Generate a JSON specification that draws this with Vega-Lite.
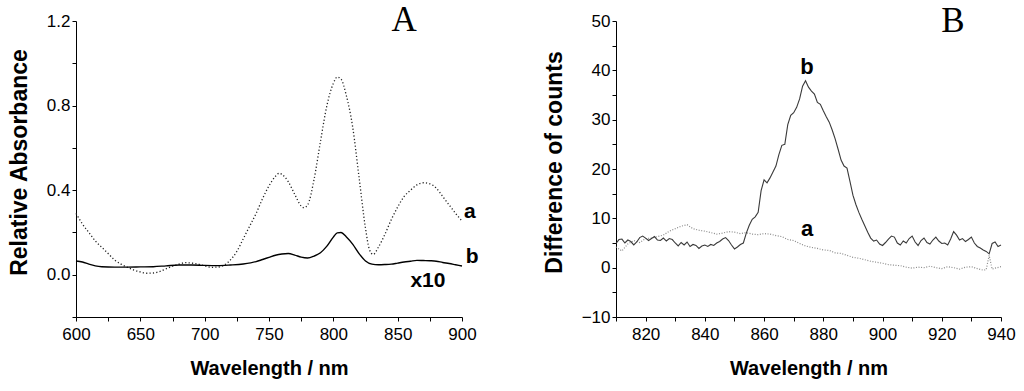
{
  "$schema": "https://vega.github.io/schema/vega-lite/v6.json",
  "background": "white",
  "padding": {"left": 8, "top": 2, "right": 5, "bottom": 2},
  "spacing": 64,
  "config": {
    "view": {"stroke": null},
    "font": "Liberation Sans",
    "axis": {
      "grid": false,
      "domainColor": "#000",
      "domainWidth": 1,
      "tickColor": "#000",
      "tickSize": 4,
      "tickCount": 100,
      "labelColor": "#000",
      "labelFont": "Liberation Sans",
      "labelFontSize": 17,
      "labelPadding": 2,
      "labelOverlap": false,
      "titleFont": "Liberation Sans",
      "titleFontWeight": "bold",
      "titleColor": "#000"
    },
    "axisX": {"labelPadding": 5, "titleFontSize": 20, "titlePadding": 16, "labelFlush": false},
    "axisY": {"titleFontSize": 23, "titlePadding": 15, "titleY": 141}
  },
  "datasets": {
    "absA": [
      {"wl": 600, "v": 0.29, "s": "a"}, {"wl": 605, "v": 0.24, "s": "a"}, {"wl": 610, "v": 0.2, "s": "a"}, {"wl": 615, "v": 0.16, "s": "a"}, {"wl": 620, "v": 0.13, "s": "a"}, {"wl": 625, "v": 0.1, "s": "a"}, {"wl": 630, "v": 0.07, "s": "a"}, {"wl": 635, "v": 0.05, "s": "a"}, {"wl": 640, "v": 0.035, "s": "a"}, {"wl": 645, "v": 0.022, "s": "a"}, {"wl": 650, "v": 0.013, "s": "a"}, {"wl": 655, "v": 0.007, "s": "a"}, {"wl": 660, "v": 0.008, "s": "a"}, {"wl": 665, "v": 0.015, "s": "a"}, {"wl": 670, "v": 0.028, "s": "a"}, {"wl": 675, "v": 0.04, "s": "a"}, {"wl": 680, "v": 0.05, "s": "a"}, {"wl": 685, "v": 0.057, "s": "a"}, {"wl": 690, "v": 0.055, "s": "a"}, {"wl": 695, "v": 0.05, "s": "a"}, {"wl": 700, "v": 0.042, "s": "a"}, {"wl": 705, "v": 0.035, "s": "a"}, {"wl": 710, "v": 0.036, "s": "a"}, {"wl": 715, "v": 0.045, "s": "a"}, {"wl": 720, "v": 0.07, "s": "a"}, {"wl": 725, "v": 0.11, "s": "a"}, {"wl": 730, "v": 0.17, "s": "a"}, {"wl": 735, "v": 0.23, "s": "a"}, {"wl": 740, "v": 0.29, "s": "a"}, {"wl": 745, "v": 0.36, "s": "a"}, {"wl": 750, "v": 0.42, "s": "a"}, {"wl": 755, "v": 0.465, "s": "a"}, {"wl": 758, "v": 0.48, "s": "a"}, {"wl": 760, "v": 0.475, "s": "a"}, {"wl": 765, "v": 0.44, "s": "a"}, {"wl": 770, "v": 0.38, "s": "a"}, {"wl": 775, "v": 0.325, "s": "a"}, {"wl": 777, "v": 0.317, "s": "a"}, {"wl": 780, "v": 0.33, "s": "a"}, {"wl": 785, "v": 0.45, "s": "a"}, {"wl": 790, "v": 0.63, "s": "a"}, {"wl": 795, "v": 0.8, "s": "a"}, {"wl": 800, "v": 0.905, "s": "a"}, {"wl": 803, "v": 0.935, "s": "a"}, {"wl": 806, "v": 0.925, "s": "a"}, {"wl": 810, "v": 0.85, "s": "a"}, {"wl": 815, "v": 0.7, "s": "a"}, {"wl": 820, "v": 0.46, "s": "a"}, {"wl": 825, "v": 0.22, "s": "a"}, {"wl": 828, "v": 0.12, "s": "a"}, {"wl": 831, "v": 0.096, "s": "a"}, {"wl": 835, "v": 0.13, "s": "a"}, {"wl": 840, "v": 0.19, "s": "a"}, {"wl": 845, "v": 0.26, "s": "a"}, {"wl": 850, "v": 0.32, "s": "a"}, {"wl": 855, "v": 0.37, "s": "a"}, {"wl": 860, "v": 0.4, "s": "a"}, {"wl": 865, "v": 0.425, "s": "a"}, {"wl": 870, "v": 0.435, "s": "a"}, {"wl": 875, "v": 0.43, "s": "a"}, {"wl": 880, "v": 0.41, "s": "a"}, {"wl": 885, "v": 0.37, "s": "a"}, {"wl": 890, "v": 0.33, "s": "a"}, {"wl": 895, "v": 0.29, "s": "a"}, {"wl": 900, "v": 0.254, "s": "a"},
      {"wl": 600, "v": 0.065, "s": "b"}, {"wl": 605, "v": 0.06, "s": "b"}, {"wl": 610, "v": 0.05, "s": "b"}, {"wl": 615, "v": 0.042, "s": "b"}, {"wl": 620, "v": 0.038, "s": "b"}, {"wl": 630, "v": 0.036, "s": "b"}, {"wl": 640, "v": 0.036, "s": "b"}, {"wl": 650, "v": 0.037, "s": "b"}, {"wl": 660, "v": 0.038, "s": "b"}, {"wl": 670, "v": 0.042, "s": "b"}, {"wl": 680, "v": 0.046, "s": "b"}, {"wl": 690, "v": 0.046, "s": "b"}, {"wl": 700, "v": 0.044, "s": "b"}, {"wl": 710, "v": 0.043, "s": "b"}, {"wl": 720, "v": 0.046, "s": "b"}, {"wl": 730, "v": 0.051, "s": "b"}, {"wl": 740, "v": 0.062, "s": "b"}, {"wl": 745, "v": 0.072, "s": "b"}, {"wl": 750, "v": 0.082, "s": "b"}, {"wl": 755, "v": 0.092, "s": "b"}, {"wl": 760, "v": 0.098, "s": "b"}, {"wl": 765, "v": 0.1, "s": "b"}, {"wl": 770, "v": 0.093, "s": "b"}, {"wl": 775, "v": 0.083, "s": "b"}, {"wl": 780, "v": 0.079, "s": "b"}, {"wl": 785, "v": 0.088, "s": "b"}, {"wl": 790, "v": 0.104, "s": "b"}, {"wl": 795, "v": 0.135, "s": "b"}, {"wl": 800, "v": 0.178, "s": "b"}, {"wl": 803, "v": 0.198, "s": "b"}, {"wl": 806, "v": 0.2, "s": "b"}, {"wl": 810, "v": 0.18, "s": "b"}, {"wl": 815, "v": 0.145, "s": "b"}, {"wl": 820, "v": 0.1, "s": "b"}, {"wl": 825, "v": 0.065, "s": "b"}, {"wl": 830, "v": 0.05, "s": "b"}, {"wl": 835, "v": 0.047, "s": "b"}, {"wl": 840, "v": 0.048, "s": "b"}, {"wl": 845, "v": 0.05, "s": "b"}, {"wl": 850, "v": 0.055, "s": "b"}, {"wl": 855, "v": 0.06, "s": "b"}, {"wl": 860, "v": 0.064, "s": "b"}, {"wl": 865, "v": 0.068, "s": "b"}, {"wl": 870, "v": 0.067, "s": "b"}, {"wl": 875, "v": 0.066, "s": "b"}, {"wl": 880, "v": 0.064, "s": "b"}, {"wl": 885, "v": 0.058, "s": "b"}, {"wl": 890, "v": 0.053, "s": "b"}, {"wl": 895, "v": 0.047, "s": "b"}, {"wl": 900, "v": 0.041, "s": "b"}
    ],
    "cntB": [
      {"wl": 810, "v": 4.9, "s": "b"}, {"wl": 811, "v": 5.7, "s": "b"}, {"wl": 812, "v": 5.8, "s": "b"}, {"wl": 813, "v": 5.0, "s": "b"}, {"wl": 814, "v": 5.6, "s": "b"}, {"wl": 815, "v": 5.3, "s": "b"}, {"wl": 816, "v": 4.6, "s": "b"}, {"wl": 817, "v": 5.2, "s": "b"}, {"wl": 818, "v": 6.1, "s": "b"}, {"wl": 819, "v": 6.4, "s": "b"}, {"wl": 820, "v": 6.0, "s": "b"}, {"wl": 821, "v": 5.5, "s": "b"}, {"wl": 822, "v": 5.9, "s": "b"}, {"wl": 823, "v": 6.3, "s": "b"}, {"wl": 824, "v": 5.6, "s": "b"}, {"wl": 825, "v": 5.5, "s": "b"}, {"wl": 826, "v": 6.0, "s": "b"}, {"wl": 827, "v": 5.4, "s": "b"}, {"wl": 828, "v": 5.9, "s": "b"}, {"wl": 829, "v": 5.7, "s": "b"}, {"wl": 830, "v": 5.0, "s": "b"}, {"wl": 831, "v": 4.4, "s": "b"}, {"wl": 832, "v": 5.1, "s": "b"}, {"wl": 833, "v": 4.6, "s": "b"}, {"wl": 834, "v": 5.2, "s": "b"}, {"wl": 835, "v": 4.3, "s": "b"}, {"wl": 836, "v": 4.7, "s": "b"}, {"wl": 837, "v": 4.5, "s": "b"}, {"wl": 838, "v": 3.9, "s": "b"}, {"wl": 839, "v": 4.4, "s": "b"}, {"wl": 840, "v": 4.6, "s": "b"}, {"wl": 841, "v": 4.3, "s": "b"}, {"wl": 842, "v": 4.7, "s": "b"}, {"wl": 843, "v": 4.5, "s": "b"}, {"wl": 844, "v": 5.0, "s": "b"}, {"wl": 845, "v": 5.3, "s": "b"}, {"wl": 846, "v": 5.8, "s": "b"}, {"wl": 847, "v": 6.1, "s": "b"}, {"wl": 848, "v": 5.5, "s": "b"}, {"wl": 849, "v": 4.6, "s": "b"}, {"wl": 850, "v": 3.8, "s": "b"}, {"wl": 851, "v": 4.2, "s": "b"}, {"wl": 852, "v": 4.7, "s": "b"}, {"wl": 853, "v": 5.0, "s": "b"}, {"wl": 854, "v": 7.0, "s": "b"}, {"wl": 855, "v": 8.6, "s": "b"}, {"wl": 856, "v": 9.8, "s": "b"}, {"wl": 857, "v": 10.3, "s": "b"}, {"wl": 858, "v": 11.2, "s": "b"}, {"wl": 859, "v": 15.6, "s": "b"}, {"wl": 860, "v": 17.8, "s": "b"}, {"wl": 861, "v": 17.2, "s": "b"}, {"wl": 862, "v": 18.2, "s": "b"}, {"wl": 863, "v": 19.4, "s": "b"}, {"wl": 864, "v": 20.6, "s": "b"}, {"wl": 865, "v": 22.9, "s": "b"}, {"wl": 866, "v": 24.8, "s": "b"}, {"wl": 867, "v": 25.0, "s": "b"}, {"wl": 868, "v": 29.0, "s": "b"}, {"wl": 869, "v": 30.9, "s": "b"}, {"wl": 870, "v": 31.4, "s": "b"}, {"wl": 871, "v": 32.5, "s": "b"}, {"wl": 872, "v": 34.2, "s": "b"}, {"wl": 873, "v": 36.8, "s": "b"}, {"wl": 874, "v": 37.9, "s": "b"}, {"wl": 875, "v": 36.6, "s": "b"}, {"wl": 876, "v": 35.8, "s": "b"}, {"wl": 877, "v": 35.2, "s": "b"}, {"wl": 878, "v": 33.5, "s": "b"}, {"wl": 879, "v": 33.1, "s": "b"}, {"wl": 880, "v": 31.8, "s": "b"}, {"wl": 881, "v": 30.6, "s": "b"}, {"wl": 882, "v": 29.5, "s": "b"}, {"wl": 883, "v": 27.9, "s": "b"}, {"wl": 884, "v": 26.1, "s": "b"}, {"wl": 885, "v": 24.0, "s": "b"}, {"wl": 886, "v": 21.8, "s": "b"}, {"wl": 887, "v": 20.6, "s": "b"}, {"wl": 888, "v": 20.2, "s": "b"}, {"wl": 889, "v": 17.5, "s": "b"}, {"wl": 890, "v": 14.7, "s": "b"}, {"wl": 891, "v": 12.8, "s": "b"}, {"wl": 892, "v": 11.2, "s": "b"}, {"wl": 893, "v": 9.8, "s": "b"}, {"wl": 894, "v": 8.5, "s": "b"}, {"wl": 895, "v": 7.2, "s": "b"}, {"wl": 896, "v": 6.0, "s": "b"}, {"wl": 897, "v": 5.4, "s": "b"}, {"wl": 898, "v": 5.6, "s": "b"}, {"wl": 899, "v": 4.8, "s": "b"}, {"wl": 900, "v": 4.5, "s": "b"}, {"wl": 901, "v": 5.1, "s": "b"}, {"wl": 902, "v": 5.8, "s": "b"}, {"wl": 903, "v": 6.4, "s": "b"}, {"wl": 904, "v": 6.2, "s": "b"}, {"wl": 905, "v": 5.0, "s": "b"}, {"wl": 906, "v": 4.6, "s": "b"}, {"wl": 907, "v": 5.4, "s": "b"}, {"wl": 908, "v": 5.0, "s": "b"}, {"wl": 909, "v": 5.9, "s": "b"}, {"wl": 910, "v": 6.4, "s": "b"}, {"wl": 911, "v": 5.2, "s": "b"}, {"wl": 912, "v": 4.5, "s": "b"}, {"wl": 913, "v": 5.5, "s": "b"}, {"wl": 914, "v": 6.0, "s": "b"}, {"wl": 915, "v": 5.1, "s": "b"}, {"wl": 916, "v": 4.8, "s": "b"}, {"wl": 917, "v": 5.6, "s": "b"}, {"wl": 918, "v": 6.2, "s": "b"}, {"wl": 919, "v": 5.4, "s": "b"}, {"wl": 920, "v": 4.9, "s": "b"}, {"wl": 921, "v": 5.0, "s": "b"}, {"wl": 922, "v": 4.6, "s": "b"}, {"wl": 923, "v": 5.8, "s": "b"}, {"wl": 924, "v": 7.3, "s": "b"}, {"wl": 925, "v": 6.6, "s": "b"}, {"wl": 926, "v": 5.6, "s": "b"}, {"wl": 927, "v": 5.9, "s": "b"}, {"wl": 928, "v": 5.3, "s": "b"}, {"wl": 929, "v": 5.7, "s": "b"}, {"wl": 930, "v": 6.2, "s": "b"}, {"wl": 931, "v": 5.0, "s": "b"}, {"wl": 932, "v": 4.3, "s": "b"}, {"wl": 933, "v": 4.0, "s": "b"}, {"wl": 934, "v": 3.6, "s": "b"}, {"wl": 935, "v": 3.3, "s": "b"}, {"wl": 936, "v": 2.8, "s": "b"}, {"wl": 937, "v": 4.9, "s": "b"}, {"wl": 938, "v": 5.2, "s": "b"}, {"wl": 939, "v": 4.3, "s": "b"}, {"wl": 940, "v": 4.6, "s": "b"},
      {"wl": 810, "v": 4.2, "s": "a"}, {"wl": 812, "v": 3.4, "s": "a"}, {"wl": 814, "v": 4.8, "s": "a"}, {"wl": 816, "v": 5.5, "s": "a"}, {"wl": 818, "v": 5.1, "s": "a"}, {"wl": 820, "v": 5.9, "s": "a"}, {"wl": 822, "v": 6.0, "s": "a"}, {"wl": 824, "v": 6.3, "s": "a"}, {"wl": 826, "v": 6.6, "s": "a"}, {"wl": 828, "v": 7.4, "s": "a"}, {"wl": 830, "v": 7.9, "s": "a"}, {"wl": 832, "v": 8.4, "s": "a"}, {"wl": 834, "v": 8.7, "s": "a"}, {"wl": 836, "v": 7.9, "s": "a"}, {"wl": 838, "v": 7.6, "s": "a"}, {"wl": 840, "v": 7.4, "s": "a"}, {"wl": 842, "v": 7.1, "s": "a"}, {"wl": 844, "v": 6.8, "s": "a"}, {"wl": 846, "v": 7.0, "s": "a"}, {"wl": 848, "v": 7.3, "s": "a"}, {"wl": 850, "v": 7.2, "s": "a"}, {"wl": 852, "v": 6.9, "s": "a"}, {"wl": 854, "v": 7.1, "s": "a"}, {"wl": 856, "v": 6.8, "s": "a"}, {"wl": 858, "v": 6.7, "s": "a"}, {"wl": 860, "v": 6.9, "s": "a"}, {"wl": 862, "v": 6.8, "s": "a"}, {"wl": 864, "v": 6.5, "s": "a"}, {"wl": 866, "v": 6.3, "s": "a"}, {"wl": 868, "v": 5.7, "s": "a"}, {"wl": 870, "v": 5.5, "s": "a"}, {"wl": 872, "v": 4.9, "s": "a"}, {"wl": 874, "v": 4.4, "s": "a"}, {"wl": 876, "v": 4.1, "s": "a"}, {"wl": 878, "v": 3.9, "s": "a"}, {"wl": 880, "v": 3.6, "s": "a"}, {"wl": 882, "v": 3.5, "s": "a"}, {"wl": 884, "v": 3.0, "s": "a"}, {"wl": 886, "v": 2.9, "s": "a"}, {"wl": 888, "v": 2.5, "s": "a"}, {"wl": 890, "v": 2.1, "s": "a"}, {"wl": 892, "v": 1.9, "s": "a"}, {"wl": 894, "v": 1.6, "s": "a"}, {"wl": 896, "v": 1.3, "s": "a"}, {"wl": 898, "v": 1.1, "s": "a"}, {"wl": 900, "v": 0.9, "s": "a"}, {"wl": 902, "v": 0.6, "s": "a"}, {"wl": 904, "v": 0.5, "s": "a"}, {"wl": 906, "v": 0.4, "s": "a"}, {"wl": 908, "v": 0.1, "s": "a"}, {"wl": 910, "v": -0.1, "s": "a"}, {"wl": 912, "v": 0.1, "s": "a"}, {"wl": 914, "v": 0.0, "s": "a"}, {"wl": 916, "v": 0.3, "s": "a"}, {"wl": 918, "v": 0.0, "s": "a"}, {"wl": 920, "v": -0.2, "s": "a"}, {"wl": 922, "v": 0.2, "s": "a"}, {"wl": 924, "v": 0.0, "s": "a"}, {"wl": 926, "v": -0.3, "s": "a"}, {"wl": 928, "v": 0.1, "s": "a"}, {"wl": 930, "v": 0.2, "s": "a"}, {"wl": 932, "v": -0.2, "s": "a"}, {"wl": 934, "v": -0.5, "s": "a"}, {"wl": 935, "v": -0.4, "s": "a"}, {"wl": 936, "v": 2.5, "s": "a"}, {"wl": 937, "v": -0.3, "s": "a"}, {"wl": 938, "v": -0.1, "s": "a"}, {"wl": 940, "v": 0.2, "s": "a"}
    ]
  },
  "hconcat": [
    {
      "width": 386,
      "height": 296,
      "layer": [
        {
          "data": {"name": "absA"},
          "transform": [{"filter": "datum.s === 'a'"}],
          "mark": {"type": "line", "color": "#222", "strokeWidth": 1.3, "strokeDash": [1.2, 2.2], "interpolate": "monotone"},
          "encoding": {
            "x": {"field": "wl", "type": "quantitative", "scale": {"domain": [600, 900], "nice": false}, "title": "Wavelength / nm",
              "axis": {"values": [600, 625, 650, 675, 700, 725, 750, 775, 800, 825, 850, 875, 900], "tickCount": 100, "format": "d", "labelExpr": "datum.value % 50 === 0 ? datum.label : ''"}},
            "y": {"field": "v", "type": "quantitative", "scale": {"domain": [-0.2, 1.2], "nice": false, "zero": false}, "title": "Relative Absorbance",
              "axis": {"values": [-0.2, 0, 0.2, 0.4, 0.6, 0.8, 1.0, 1.2], "tickCount": 100, "format": ".1f", "labelExpr": "round(datum.value * 10) % 4 === 0 && datum.value >= 0 ? datum.label : ''"}}
          }
        },
        {
          "data": {"name": "absA"},
          "transform": [{"filter": "datum.s === 'b'"}],
          "mark": {"type": "line", "color": "#000", "strokeWidth": 1.4, "interpolate": "monotone"},
          "encoding": {
            "x": {"field": "wl", "type": "quantitative"},
            "y": {"field": "v", "type": "quantitative"}
          }
        },
        {
          "data": {"values": [{"wl": 901.5, "v": 0.27, "t": "a"}, {"wl": 903, "v": 0.057, "t": "b"}]},
          "mark": {"type": "text", "align": "left", "baseline": "alphabetic", "font": "Liberation Sans", "fontWeight": "bold", "fontSize": 21, "color": "#000"},
          "encoding": {"x": {"field": "wl", "type": "quantitative"}, "y": {"field": "v", "type": "quantitative"}, "text": {"field": "t"}}
        },
        {
          "data": {"values": [{"wl": 873.5, "v": -0.057, "t": "x10"}]},
          "mark": {"type": "text", "align": "center", "baseline": "alphabetic", "font": "Liberation Sans", "fontWeight": "bold", "fontSize": 21, "color": "#000"},
          "encoding": {"x": {"field": "wl", "type": "quantitative"}, "y": {"field": "v", "type": "quantitative"}, "text": {"field": "t"}}
        },
        {
          "data": {"values": [{"wl": 855, "v": 1.153, "t": "A"}]},
          "mark": {"type": "text", "align": "center", "baseline": "alphabetic", "font": "Liberation Serif", "fontSize": 35, "color": "#000"},
          "encoding": {"x": {"field": "wl", "type": "quantitative"}, "y": {"field": "v", "type": "quantitative"}, "text": {"field": "t"}}
        }
      ]
    },
    {
      "width": 385,
      "height": 296,
      "layer": [
        {
          "data": {"name": "cntB"},
          "transform": [{"filter": "datum.s === 'a'"}],
          "mark": {"type": "line", "color": "#8a8a8a", "strokeWidth": 1.2, "strokeDash": [1, 1.6]},
          "encoding": {
            "x": {"field": "wl", "type": "quantitative", "scale": {"domain": [810, 940], "nice": false, "zero": false}, "title": "Wavelength / nm",
              "axis": {"values": [810, 820, 830, 840, 850, 860, 870, 880, 890, 900, 910, 920, 930, 940], "tickCount": 100, "format": "d", "labelExpr": "datum.value % 20 === 0 ? datum.label : ''"}},
            "y": {"field": "v", "type": "quantitative", "scale": {"domain": [-10, 50], "nice": false}, "title": "Difference of counts",
              "axis": {"values": [-10, -5, 0, 5, 10, 15, 20, 25, 30, 35, 40, 45, 50], "tickCount": 100, "format": "d", "labelExpr": "datum.value % 10 === 0 ? datum.label : ''"}}
          }
        },
        {
          "data": {"name": "cntB"},
          "transform": [{"filter": "datum.s === 'b'"}],
          "mark": {"type": "line", "color": "#3a3a3a", "strokeWidth": 1.1},
          "encoding": {
            "x": {"field": "wl", "type": "quantitative"},
            "y": {"field": "v", "type": "quantitative"}
          }
        },
        {
          "data": {"values": [{"wl": 874.5, "v": 39.2, "t": "b"}, {"wl": 874.5, "v": 6.5, "t": "a"}]},
          "mark": {"type": "text", "align": "center", "baseline": "alphabetic", "font": "Liberation Sans", "fontWeight": "bold", "fontSize": 22, "color": "#000"},
          "encoding": {"x": {"field": "wl", "type": "quantitative"}, "y": {"field": "v", "type": "quantitative"}, "text": {"field": "t"}}
        },
        {
          "data": {"values": [{"wl": 923.8, "v": 47.7, "t": "B"}]},
          "mark": {"type": "text", "align": "center", "baseline": "alphabetic", "font": "Liberation Serif", "fontSize": 35, "color": "#000"},
          "encoding": {"x": {"field": "wl", "type": "quantitative"}, "y": {"field": "v", "type": "quantitative"}, "text": {"field": "t"}}
        }
      ]
    }
  ]
}
